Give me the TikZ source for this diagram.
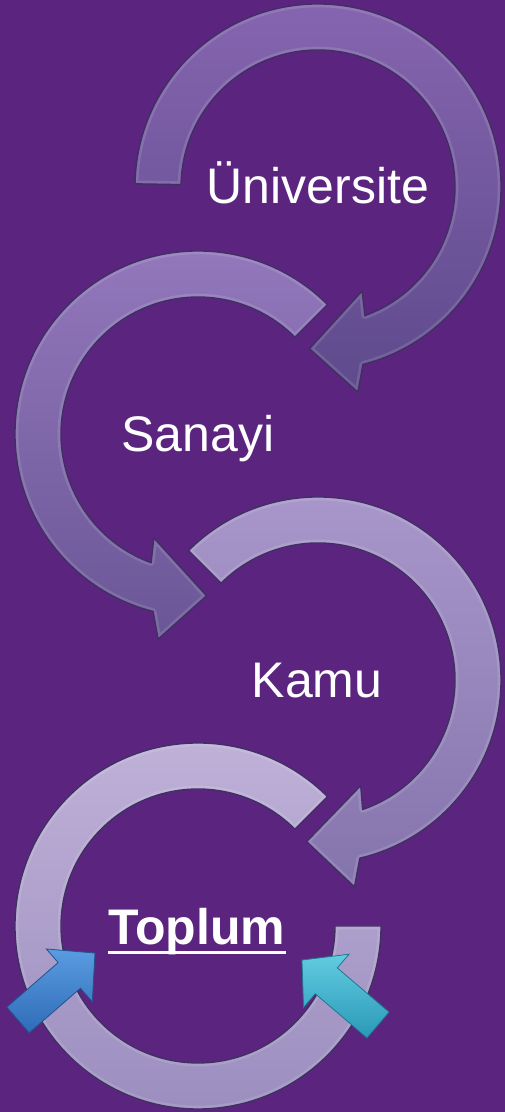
\documentclass[tikz,border=0pt]{standalone}
\usepackage{fontspec}
\setmainfont{Liberation Sans}
\definecolor{bg}{HTML}{5B247F}
\definecolor{ringedge}{HTML}{3E3060}
\definecolor{cOneT}{HTML}{8565AF}
\definecolor{cOneB}{HTML}{5E4A8C}
\definecolor{cTwoT}{HTML}{9479BD}
\definecolor{cTwoB}{HTML}{6A5696}
\definecolor{cThreeT}{HTML}{AA98CC}
\definecolor{cThreeB}{HTML}{8474AC}
\definecolor{cFourT}{HTML}{C0B2D8}
\definecolor{cFourB}{HTML}{9A8CBE}
\definecolor{blueT}{HTML}{5A9CE0}
\definecolor{blueB}{HTML}{2F6CB8}
\definecolor{blueE}{HTML}{24528E}
\definecolor{cyanT}{HTML}{62CCE0}
\definecolor{cyanB}{HTML}{2A98B8}
\definecolor{cyanE}{HTML}{1F7890}
\tikzset{
  ringedgeline/.style={draw=ringedge, line width=1pt, line join=round},
  bevel/.style={draw=white, draw opacity=0.12, line width=5pt, line join=round},
  blockarrow/.style={line width=0.6pt, line join=miter},
  lbl/.style={text=white, font=\fontsize{37.5}{45}\selectfont, inner sep=0pt, anchor=base},
}
\newcommand\ringFourPath{(45:183) arc[start angle=45, end angle=360, radius=183]
  -- (0:137) arc[start angle=360, end angle=45, radius=137] -- cycle}
\newcommand\ringThreePath{(135:183) arc[start angle=135, end angle=-76.8, radius=183]
  -- (-80:210) -- (-94:162) -- (-68:114) -- (-71:137)
  arc[start angle=-71, end angle=135, radius=137] -- cycle}
\newcommand\ringTwoPath{(45:183) arc[start angle=45, end angle=255.8, radius=183]
  -- (259:209) -- (273:162) -- (247:113) -- (250:137)
  arc[start angle=250, end angle=45, radius=137] -- cycle}
\newcommand\ringOnePath{(179:183) arc[start angle=179, end angle=-75.8, radius=183]
  -- (-79:209) -- (-93:162) -- (-67:113) -- (-70:137)
  arc[start angle=-70, end angle=179, radius=137] -- cycle}
\newcommand\bevelring[4]{%
  \begin{scope}[shift={#1}]
    \path[top color=#2, bottom color=#3] #4;
    \begin{scope}
      \clip #4;
      \path[bevel] #4;
    \end{scope}
    \path[ringedgeline] #4;
  \end{scope}}
\begin{document}
\begin{tikzpicture}[x=0.75pt, y=0.75pt]
\useasboundingbox (0,0) rectangle (505,1112);
\fill[bg] (0,0) rectangle (505,1112);

\bevelring{(198,186)}{cFourT}{cFourB}{\ringFourPath}
\bevelring{(318,432)}{cThreeT}{cThreeB}{\ringThreePath}
\bevelring{(198,678)}{cTwoT}{cTwoB}{\ringTwoPath}
\bevelring{(318,925)}{cOneT}{cOneB}{\ringOnePath}

% labels
\node[lbl] (uni) at (318,908) {Üniversite};
\node[lbl] (san) at (198,660) {Sanayi};
\node[lbl] (kam) at (317,414) {Kamu};
\node[lbl, font=\fontsize{37.5}{45}\selectfont\bfseries] (top) at (197,167) {Toplum};
\draw[white, line width=2.2pt] ([yshift=-5.5pt]top.base west) -- ([yshift=-5.5pt]top.base east);

% blue arrow (left)
\path[blockarrow, draw=blueE, top color=blueT, bottom color=blueB, shift={(18,92)}, rotate=41]
  (0,-17) -- (68,-17) -- (68,-35) -- (102,0) -- (68,35) -- (68,17) -- (0,17) -- cycle;

% cyan arrow (right)
\path[blockarrow, draw=cyanE, top color=cyanT, bottom color=cyanB, shift={(378,87)}, rotate=139.5]
  (0,-17) -- (68,-17) -- (68,-35) -- (100,0) -- (68,35) -- (68,17) -- (0,17) -- cycle;
\end{tikzpicture}
\end{document}
